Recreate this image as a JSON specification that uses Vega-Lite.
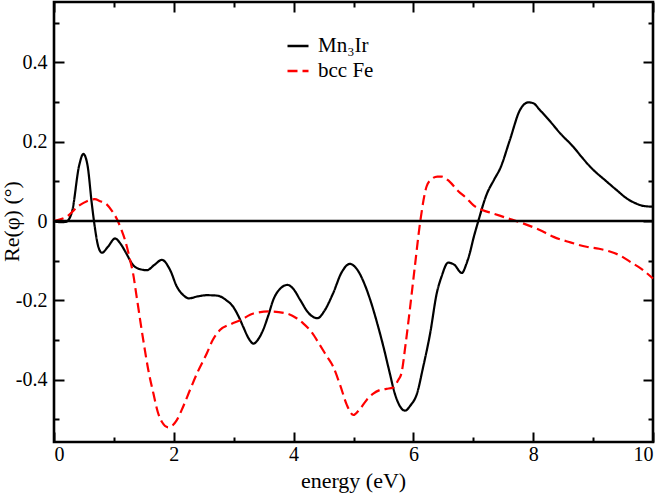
{
  "$schema": "https://vega.github.io/schema/vega-lite/v6.json",
  "width": 599,
  "height": 440,
  "autosize": {"type": "none"},
  "padding": {"left": 54, "top": 2, "right": 11, "bottom": 53},
  "background": "white",
  "data": {"values": [
    {"e": 0.00, "v": 0.000, "s": "Mn₃Ir"},
    {"e": 0.10, "v": -0.003, "s": "Mn₃Ir"},
    {"e": 0.20, "v": -0.002, "s": "Mn₃Ir"},
    {"e": 0.30, "v": 0.023, "s": "Mn₃Ir"},
    {"e": 0.42, "v": 0.140, "s": "Mn₃Ir"},
    {"e": 0.49, "v": 0.169, "s": "Mn₃Ir"},
    {"e": 0.56, "v": 0.140, "s": "Mn₃Ir"},
    {"e": 0.63, "v": 0.045, "s": "Mn₃Ir"},
    {"e": 0.68, "v": -0.014, "s": "Mn₃Ir"},
    {"e": 0.74, "v": -0.065, "s": "Mn₃Ir"},
    {"e": 0.80, "v": -0.080, "s": "Mn₃Ir"},
    {"e": 0.90, "v": -0.065, "s": "Mn₃Ir"},
    {"e": 1.02, "v": -0.044, "s": "Mn₃Ir"},
    {"e": 1.10, "v": -0.055, "s": "Mn₃Ir"},
    {"e": 1.19, "v": -0.077, "s": "Mn₃Ir"},
    {"e": 1.32, "v": -0.111, "s": "Mn₃Ir"},
    {"e": 1.45, "v": -0.122, "s": "Mn₃Ir"},
    {"e": 1.55, "v": -0.124, "s": "Mn₃Ir"},
    {"e": 1.68, "v": -0.110, "s": "Mn₃Ir"},
    {"e": 1.80, "v": -0.098, "s": "Mn₃Ir"},
    {"e": 1.94, "v": -0.124, "s": "Mn₃Ir"},
    {"e": 2.05, "v": -0.165, "s": "Mn₃Ir"},
    {"e": 2.16, "v": -0.187, "s": "Mn₃Ir"},
    {"e": 2.25, "v": -0.195, "s": "Mn₃Ir"},
    {"e": 2.40, "v": -0.190, "s": "Mn₃Ir"},
    {"e": 2.55, "v": -0.187, "s": "Mn₃Ir"},
    {"e": 2.72, "v": -0.188, "s": "Mn₃Ir"},
    {"e": 2.88, "v": -0.200, "s": "Mn₃Ir"},
    {"e": 2.99, "v": -0.216, "s": "Mn₃Ir"},
    {"e": 3.08, "v": -0.240, "s": "Mn₃Ir"},
    {"e": 3.16, "v": -0.267, "s": "Mn₃Ir"},
    {"e": 3.25, "v": -0.296, "s": "Mn₃Ir"},
    {"e": 3.33, "v": -0.309, "s": "Mn₃Ir"},
    {"e": 3.41, "v": -0.298, "s": "Mn₃Ir"},
    {"e": 3.49, "v": -0.275, "s": "Mn₃Ir"},
    {"e": 3.58, "v": -0.237, "s": "Mn₃Ir"},
    {"e": 3.66, "v": -0.199, "s": "Mn₃Ir"},
    {"e": 3.78, "v": -0.170, "s": "Mn₃Ir"},
    {"e": 3.90, "v": -0.161, "s": "Mn₃Ir"},
    {"e": 4.00, "v": -0.172, "s": "Mn₃Ir"},
    {"e": 4.11, "v": -0.199, "s": "Mn₃Ir"},
    {"e": 4.25, "v": -0.232, "s": "Mn₃Ir"},
    {"e": 4.40, "v": -0.245, "s": "Mn₃Ir"},
    {"e": 4.52, "v": -0.225, "s": "Mn₃Ir"},
    {"e": 4.66, "v": -0.182, "s": "Mn₃Ir"},
    {"e": 4.80, "v": -0.130, "s": "Mn₃Ir"},
    {"e": 4.94, "v": -0.108, "s": "Mn₃Ir"},
    {"e": 5.05, "v": -0.120, "s": "Mn₃Ir"},
    {"e": 5.20, "v": -0.165, "s": "Mn₃Ir"},
    {"e": 5.28, "v": -0.199, "s": "Mn₃Ir"},
    {"e": 5.40, "v": -0.260, "s": "Mn₃Ir"},
    {"e": 5.50, "v": -0.317, "s": "Mn₃Ir"},
    {"e": 5.60, "v": -0.380, "s": "Mn₃Ir"},
    {"e": 5.69, "v": -0.435, "s": "Mn₃Ir"},
    {"e": 5.78, "v": -0.468, "s": "Mn₃Ir"},
    {"e": 5.86, "v": -0.478, "s": "Mn₃Ir"},
    {"e": 5.95, "v": -0.465, "s": "Mn₃Ir"},
    {"e": 6.06, "v": -0.435, "s": "Mn₃Ir"},
    {"e": 6.16, "v": -0.370, "s": "Mn₃Ir"},
    {"e": 6.28, "v": -0.283, "s": "Mn₃Ir"},
    {"e": 6.39, "v": -0.182, "s": "Mn₃Ir"},
    {"e": 6.47, "v": -0.140, "s": "Mn₃Ir"},
    {"e": 6.58, "v": -0.105, "s": "Mn₃Ir"},
    {"e": 6.68, "v": -0.110, "s": "Mn₃Ir"},
    {"e": 6.81, "v": -0.131, "s": "Mn₃Ir"},
    {"e": 6.88, "v": -0.110, "s": "Mn₃Ir"},
    {"e": 6.94, "v": -0.082, "s": "Mn₃Ir"},
    {"e": 7.00, "v": -0.045, "s": "Mn₃Ir"},
    {"e": 7.08, "v": -0.002, "s": "Mn₃Ir"},
    {"e": 7.22, "v": 0.066, "s": "Mn₃Ir"},
    {"e": 7.35, "v": 0.105, "s": "Mn₃Ir"},
    {"e": 7.45, "v": 0.133, "s": "Mn₃Ir"},
    {"e": 7.61, "v": 0.204, "s": "Mn₃Ir"},
    {"e": 7.78, "v": 0.280, "s": "Mn₃Ir"},
    {"e": 7.92, "v": 0.299, "s": "Mn₃Ir"},
    {"e": 8.00, "v": 0.297, "s": "Mn₃Ir"},
    {"e": 8.11, "v": 0.280, "s": "Mn₃Ir"},
    {"e": 8.30, "v": 0.248, "s": "Mn₃Ir"},
    {"e": 8.45, "v": 0.221, "s": "Mn₃Ir"},
    {"e": 8.67, "v": 0.187, "s": "Mn₃Ir"},
    {"e": 8.80, "v": 0.163, "s": "Mn₃Ir"},
    {"e": 8.95, "v": 0.137, "s": "Mn₃Ir"},
    {"e": 9.23, "v": 0.099, "s": "Mn₃Ir"},
    {"e": 9.40, "v": 0.077, "s": "Mn₃Ir"},
    {"e": 9.56, "v": 0.057, "s": "Mn₃Ir"},
    {"e": 9.72, "v": 0.044, "s": "Mn₃Ir"},
    {"e": 9.84, "v": 0.038, "s": "Mn₃Ir"},
    {"e": 10.0, "v": 0.036, "s": "Mn₃Ir"},
    {"e": 0.00, "v": 0.000, "s": "bcc Fe"},
    {"e": 0.21, "v": 0.011, "s": "bcc Fe"},
    {"e": 0.43, "v": 0.040, "s": "bcc Fe"},
    {"e": 0.55, "v": 0.050, "s": "bcc Fe"},
    {"e": 0.68, "v": 0.055, "s": "bcc Fe"},
    {"e": 0.77, "v": 0.050, "s": "bcc Fe"},
    {"e": 0.88, "v": 0.042, "s": "bcc Fe"},
    {"e": 0.97, "v": 0.025, "s": "bcc Fe"},
    {"e": 1.05, "v": 0.005, "s": "bcc Fe"},
    {"e": 1.12, "v": -0.020, "s": "bcc Fe"},
    {"e": 1.19, "v": -0.050, "s": "bcc Fe"},
    {"e": 1.27, "v": -0.098, "s": "bcc Fe"},
    {"e": 1.32, "v": -0.132, "s": "bcc Fe"},
    {"e": 1.38, "v": -0.191, "s": "bcc Fe"},
    {"e": 1.49, "v": -0.300, "s": "bcc Fe"},
    {"e": 1.58, "v": -0.380, "s": "bcc Fe"},
    {"e": 1.66, "v": -0.435, "s": "bcc Fe"},
    {"e": 1.73, "v": -0.480, "s": "bcc Fe"},
    {"e": 1.80, "v": -0.506, "s": "bcc Fe"},
    {"e": 1.91, "v": -0.520, "s": "bcc Fe"},
    {"e": 2.05, "v": -0.502, "s": "bcc Fe"},
    {"e": 2.15, "v": -0.470, "s": "bcc Fe"},
    {"e": 2.27, "v": -0.426, "s": "bcc Fe"},
    {"e": 2.40, "v": -0.380, "s": "bcc Fe"},
    {"e": 2.55, "v": -0.334, "s": "bcc Fe"},
    {"e": 2.65, "v": -0.300, "s": "bcc Fe"},
    {"e": 2.77, "v": -0.275, "s": "bcc Fe"},
    {"e": 2.95, "v": -0.260, "s": "bcc Fe"},
    {"e": 3.11, "v": -0.250, "s": "bcc Fe"},
    {"e": 3.33, "v": -0.233, "s": "bcc Fe"},
    {"e": 3.60, "v": -0.228, "s": "bcc Fe"},
    {"e": 3.88, "v": -0.233, "s": "bcc Fe"},
    {"e": 4.05, "v": -0.245, "s": "bcc Fe"},
    {"e": 4.16, "v": -0.258, "s": "bcc Fe"},
    {"e": 4.30, "v": -0.280, "s": "bcc Fe"},
    {"e": 4.44, "v": -0.313, "s": "bcc Fe"},
    {"e": 4.55, "v": -0.340, "s": "bcc Fe"},
    {"e": 4.66, "v": -0.367, "s": "bcc Fe"},
    {"e": 4.78, "v": -0.415, "s": "bcc Fe"},
    {"e": 4.89, "v": -0.464, "s": "bcc Fe"},
    {"e": 5.00, "v": -0.489, "s": "bcc Fe"},
    {"e": 5.10, "v": -0.475, "s": "bcc Fe"},
    {"e": 5.22, "v": -0.451, "s": "bcc Fe"},
    {"e": 5.33, "v": -0.435, "s": "bcc Fe"},
    {"e": 5.44, "v": -0.426, "s": "bcc Fe"},
    {"e": 5.55, "v": -0.423, "s": "bcc Fe"},
    {"e": 5.66, "v": -0.420, "s": "bcc Fe"},
    {"e": 5.75, "v": -0.400, "s": "bcc Fe"},
    {"e": 5.80, "v": -0.384, "s": "bcc Fe"},
    {"e": 5.87, "v": -0.310, "s": "bcc Fe"},
    {"e": 5.94, "v": -0.224, "s": "bcc Fe"},
    {"e": 6.02, "v": -0.120, "s": "bcc Fe"},
    {"e": 6.11, "v": -0.006, "s": "bcc Fe"},
    {"e": 6.22, "v": 0.087, "s": "bcc Fe"},
    {"e": 6.30, "v": 0.105, "s": "bcc Fe"},
    {"e": 6.40, "v": 0.112, "s": "bcc Fe"},
    {"e": 6.47, "v": 0.112, "s": "bcc Fe"},
    {"e": 6.60, "v": 0.100, "s": "bcc Fe"},
    {"e": 6.75, "v": 0.075, "s": "bcc Fe"},
    {"e": 6.89, "v": 0.057, "s": "bcc Fe"},
    {"e": 7.00, "v": 0.040, "s": "bcc Fe"},
    {"e": 7.15, "v": 0.028, "s": "bcc Fe"},
    {"e": 7.33, "v": 0.019, "s": "bcc Fe"},
    {"e": 7.55, "v": 0.008, "s": "bcc Fe"},
    {"e": 7.83, "v": -0.006, "s": "bcc Fe"},
    {"e": 8.10, "v": -0.022, "s": "bcc Fe"},
    {"e": 8.34, "v": -0.040, "s": "bcc Fe"},
    {"e": 8.60, "v": -0.053, "s": "bcc Fe"},
    {"e": 8.89, "v": -0.065, "s": "bcc Fe"},
    {"e": 9.10, "v": -0.070, "s": "bcc Fe"},
    {"e": 9.28, "v": -0.077, "s": "bcc Fe"},
    {"e": 9.45, "v": -0.087, "s": "bcc Fe"},
    {"e": 9.62, "v": -0.103, "s": "bcc Fe"},
    {"e": 9.80, "v": -0.120, "s": "bcc Fe"},
    {"e": 10.0, "v": -0.145, "s": "bcc Fe"}
  ]},
  "layer": [
    {
      "mark": {"type": "line", "interpolate": "monotone", "strokeWidth": 2.2},
      "encoding": {
        "x": {
          "field": "e", "type": "quantitative",
          "scale": {"domain": [0, 10], "nice": false},
          "axis": {
            "orient": "bottom", "title": "energy (eV)",
            "values": [0, 1, 2, 3, 4, 5, 6, 7, 8, 9, 10],
            "labelExpr": "datum.value % 2 == 0 ? toString(datum.value) : ''",
            "tickSize": {"expr": "datum.value % 2 == 0 ? -10 : -5"},
            "labelPadding": 12,
            "titleX": 299, "titleY": 45, "titleBaseline": "alphabetic", "titleAlign": "center"
          }
        },
        "y": {
          "field": "v", "type": "quantitative",
          "scale": {"domain": [-0.557, 0.552], "nice": false, "zero": false},
          "axis": {
            "orient": "left", "title": "Re(φ) (°)",
            "values": [-0.5, -0.4, -0.3, -0.2, -0.1, 0, 0.1, 0.2, 0.3, 0.4, 0.5],
            "labelExpr": "abs(round(datum.value * 10)) % 2 == 0 ? toString(round(datum.value * 10) / 10) : ''",
            "tickSize": {"expr": "abs(round(datum.value * 10)) % 2 == 0 ? -10 : -5"},
            "labelPadding": 17,
            "titleX": -43, "titleY": 219, "titleAngle": 270, "titleBaseline": "middle", "titleAlign": "center"
          }
        },
        "color": {
          "field": "s", "type": "nominal",
          "scale": {"domain": ["Mn₃Ir", "bcc Fe"], "range": ["#000000", "#ff0000"]},
          "legend": {
            "orient": "none", "legendX": 232, "legendY": 32, "title": null,
            "symbolType": "stroke", "symbolSize": 441, "symbolStrokeWidth": 2.5,
            "labelFontSize": 21, "labelOffset": 8, "rowPadding": 3, "padding": 0
          }
        },
        "strokeDash": {
          "field": "s", "type": "nominal",
          "scale": {"domain": ["Mn₃Ir", "bcc Fe"], "range": [[1, 0], [10, 5]]},
          "legend": {
            "orient": "none", "legendX": 232, "legendY": 32, "title": null,
            "symbolType": "stroke", "symbolSize": 441, "symbolStrokeWidth": 2.5,
            "labelFontSize": 21, "labelOffset": 8, "rowPadding": 3, "padding": 0
          }
        }
      }
    },
    {
      "data": {"values": [{"v": 0}]},
      "mark": {"type": "rule", "color": "black", "strokeWidth": 2.6},
      "encoding": {"y": {"field": "v", "type": "quantitative", "axis": null}}
    },
    {
      "mark": {"type": "point", "opacity": 0},
      "encoding": {
        "x": {
          "field": "e", "type": "quantitative",
          "axis": {
            "orient": "top", "title": null, "labels": false,
            "values": [0, 1, 2, 3, 4, 5, 6, 7, 8, 9, 10],
            "tickSize": {"expr": "datum.value % 2 == 0 ? -10 : -5"}
          }
        },
        "y": {
          "field": "v", "type": "quantitative",
          "axis": {
            "orient": "right", "title": null, "labels": false,
            "values": [-0.5, -0.4, -0.3, -0.2, -0.1, 0, 0.1, 0.2, 0.3, 0.4, 0.5],
            "tickSize": {"expr": "abs(round(datum.value * 10)) % 2 == 0 ? -10 : -5"}
          }
        }
      }
    }
  ],
  "resolve": {"axis": {"x": "independent", "y": "independent"}},
  "config": {
    "font": "Liberation Serif",
    "view": {"stroke": "black", "strokeWidth": 2.6},
    "axis": {
      "domain": false, "grid": false,
      "tickColor": "black", "tickWidth": 2,
      "labelColor": "black", "labelFont": "Liberation Serif", "labelFontSize": 20,
      "titleColor": "black", "titleFont": "Liberation Serif", "titleFontSize": 22, "titleFontWeight": "normal"
    },
    "legend": {"labelFont": "Liberation Serif", "labelColor": "black"}
  }
}
